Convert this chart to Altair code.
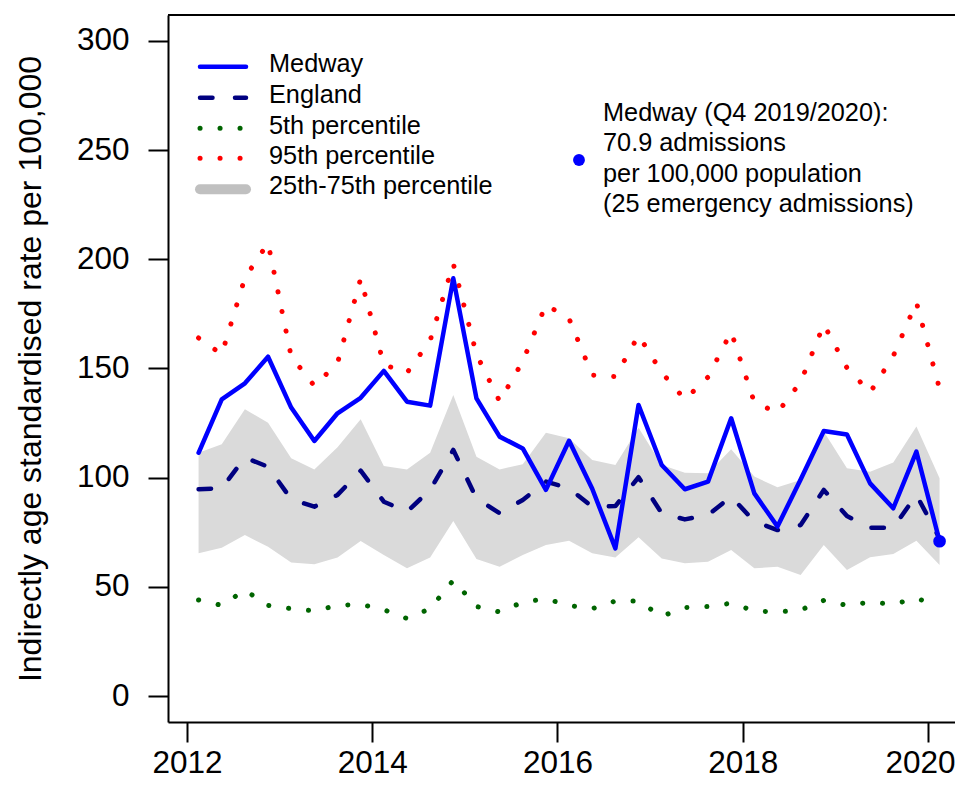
import altair as alt
import pandas as pd

# Quarter mid-points (financial quarters Q4 2011/12 ... Q4 2019/20)
period = [2012.125, 2012.375, 2012.625, 2012.875, 2013.125, 2013.375, 2013.625, 2013.875,
          2014.125, 2014.375, 2014.625, 2014.875, 2015.125, 2015.375, 2015.625, 2015.875,
          2016.125, 2016.375, 2016.625, 2016.875, 2017.125, 2017.375, 2017.625, 2017.875,
          2018.125, 2018.375, 2018.625, 2018.875, 2019.125, 2019.375, 2019.625, 2019.875,
          2020.125]

medway = [111.4, 135.9, 143.2, 155.4, 132.1, 116.8, 129.5, 136.6, 148.9, 134.8, 133.0,
          191.3, 136.3, 118.8, 113.4, 94.4, 116.9, 94.9, 67.6, 133.3, 105.8, 94.7, 98.2,
          127.2, 92.8, 77.6, 99.2, 121.4, 119.8, 97.4, 86.0, 111.9, 70.9]

england = [94.7, 95.1, 109.2, 105.0, 90.1, 86.7, 92.1, 103.2, 89.0, 84.4, 94.4, 112.7,
           90.5, 83.7, 89.8, 98.2, 95.1, 86.7, 87.0, 100.2, 83.7, 80.9, 82.9, 91.3, 80.0,
           76.0, 78.3, 94.4, 82.4, 77.1, 77.1, 92.1, 72.2]

p5 = [44, 41.5, 48.5, 41.5, 40, 39, 41.5, 42, 39.5, 35.5, 40, 53, 41, 38.5, 43, 44.5,
      41.5, 40, 43.5, 43.5, 36.5, 40.5, 41, 42.5, 39, 38.5, 39.4, 43.8, 41.5, 43, 42,
      44.8, 41]

p95 = [164, 156.5, 191.5, 207.5, 155.5, 142, 152.5, 191.2, 151.8, 148, 162.8, 198,
       156.5, 135, 153.3, 179.2, 172.8, 147, 146.3, 165.2, 148.2, 135.8, 146.1, 166.8,
       134.5, 129.8, 143.8, 170.2, 150.3, 139, 155.7, 180.3, 140.7]

q75 = [111.4, 115.3, 131.3, 125.2, 108.9, 103.8, 113.9, 126.7, 105.3, 103.8, 111.4,
       137.9, 109.6, 103.8, 106.1, 120.6, 118.0, 108.1, 105.8, 122.9, 105.8, 102.3,
       102.0, 113.0, 100.5, 95.6, 98.9, 121.1, 104.3, 102.7, 106.9, 123.4, 99.7]

q25 = [65.4, 67.9, 73.7, 68.4, 61.1, 60.3, 63.4, 71.0, 64.6, 58.5, 63.4, 80.2, 62.8,
       59.2, 64.6, 69.2, 71.1, 65.4, 63.4, 72.7, 63.0, 60.8, 61.5, 66.9, 58.5, 59.2,
       55.4, 69.2, 57.7, 63.5, 65.0, 71.1, 60.0]

x_ticks = [2012, 2014, 2016, 2018, 2020]
y_ticks = [0, 50, 100, 150, 200, 250, 300]

legend_labels = ["Medway", "England", "5th percentile", "95th percentile",
                 "25th-75th percentile"]
note_lines = ["Medway (Q4 2019/2020):", "70.9 admissions",
              "per 100,000 population", "(25 emergency admissions)"]

FONT = "Liberation Sans"
W, H = 787, 707
BLUE, NAVY, GREEN, RED = "#0000ff", "#000080", "#006400", "#ff0000"
BAND, BAND_LEG = "#dadada", "#c0c0c0"
SMALL = 25.3

df = pd.DataFrame({"t": period, "medway": medway, "england": england,
                   "p5": p5, "p95": p95, "q25": q25, "q75": q75})
last = pd.DataFrame({"t": [period[-1]], "medway": [medway[-1]]})

xs = alt.Scale(domain=[2011.7949, 2020.2916], nice=False, zero=False)
ys = alt.Scale(domain=[-11.9, 311.9], nice=False, zero=False)

x_axis = alt.Axis(values=x_ticks, format="d", title=None, grid=False,
                  labelFont=FONT, labelFontSize=31.5, labelColor="black",
                  labelPadding=5, labelFlush=False, labelOverlap=False,
                  labelBound=False,
                  labelOffset={"condition": {"test": "datum.value == 2020", "value": -8},
                               "value": 0},
                  tickSize=20, tickWidth=2, tickColor="black",
                  domainColor="black", domainWidth=2)
y_axis = alt.Axis(values=y_ticks, title="Indirectly age standardised rate per 100,000",
                  grid=False, labelFont=FONT, labelFontSize=31.5, labelColor="black",
                  labelPadding=19, labelFlush=False, labelOverlap=False,
                  tickSize=20, tickWidth=2, tickColor="black",
                  domainColor="black", domainWidth=2,
                  titleFont=FONT, titleFontSize=32, titleFontWeight="normal",
                  titleColor="black", titleX=-138, titleY=H / 2, titleAngle=270,
                  titleAlign="center", titleBaseline="middle")

X = alt.X("t:Q", scale=xs, axis=x_axis)


def Y(field):
    return alt.Y(f"{field}:Q", scale=ys, axis=y_axis)


base = alt.Chart(df)

band = base.mark_area(color=BAND, opacity=1).encode(
    x=X, y=Y("q25"), y2="q75:Q")

dot_style = dict(strokeWidth=5, strokeDash=[0.1, 19.9], strokeCap="round")
line_p5 = base.mark_line(color=GREEN, **dot_style).encode(x=X, y=Y("p5"))
line_p95 = base.mark_line(color=RED, **dot_style).encode(x=X, y=Y("p95"))
line_eng = base.mark_line(color=NAVY, strokeWidth=4.5, strokeDash=[12.5, 22.5],
                          strokeCap="round", strokeJoin="round").encode(x=X, y=Y("england"))
line_med = base.mark_line(color=BLUE, strokeWidth=4.5, strokeJoin="round",
                          strokeCap="round").encode(x=X, y=Y("medway"))
pt_last = alt.Chart(last).mark_circle(color=BLUE, opacity=1, size=160).encode(
    x=X, y=Y("medway"))

one = pd.DataFrame({"a": [0]})
top_border = alt.Chart(one).mark_rule(color="black", strokeWidth=2).encode(
    x=alt.value(0), x2=alt.value(W), y=alt.value(0))

# legend (drawn by hand, top-left of the plot)
leg_y = [51.7, 82.7, 113.3, 143.3, 174.3]
leg_txt_y = [56.7, 87.7, 118.7, 148.7, 179.2]
leg_styles = [
    dict(color=BLUE, strokeWidth=4.5, strokeCap="round"),
    dict(color=NAVY, strokeWidth=4.5, strokeCap="round", strokeDash=[12.5, 22.5]),
    dict(color=GREEN, **dot_style),
    dict(color=RED, **dot_style),
    dict(color=BAND_LEG, strokeWidth=10, strokeCap="round"),
]
legend_layers = []
for lab, ly, ty, st in zip(legend_labels, leg_y, leg_txt_y, leg_styles):
    legend_layers.append(alt.Chart(one).mark_rule(**st).encode(
        x=alt.value(32), x2=alt.value(78), y=alt.value(ly)))
    legend_layers.append(alt.Chart(one).mark_text(
        align="left", baseline="alphabetic", font=FONT, fontSize=SMALL,
        color="black").encode(x=alt.value(101), y=alt.value(ty), text=alt.value(lab)))

# annotation for latest value
note_layers = [alt.Chart(one).mark_circle(color=BLUE, opacity=1, size=140).encode(
    x=alt.value(411), y=alt.value(145))]
for i, line in enumerate(note_lines):
    note_layers.append(alt.Chart(one).mark_text(
        align="left", baseline="alphabetic", font=FONT, fontSize=SMALL,
        color="black").encode(x=alt.value(435), y=alt.value(106 + 30.4 * i),
                              text=alt.value(line)))

chart = alt.layer(
    band, line_p5, line_p95, line_eng, line_med, pt_last, top_border,
    *legend_layers, *note_layers
).properties(
    width=W, height=H,
    padding={"left": 160, "top": 7, "right": 0, "bottom": 58},
    autosize=alt.AutoSizeParams(type="none"),
    background="white",
).configure_view(stroke="transparent")

chart.save("out.html", embed_options={"renderer": "svg", "actions": False})
